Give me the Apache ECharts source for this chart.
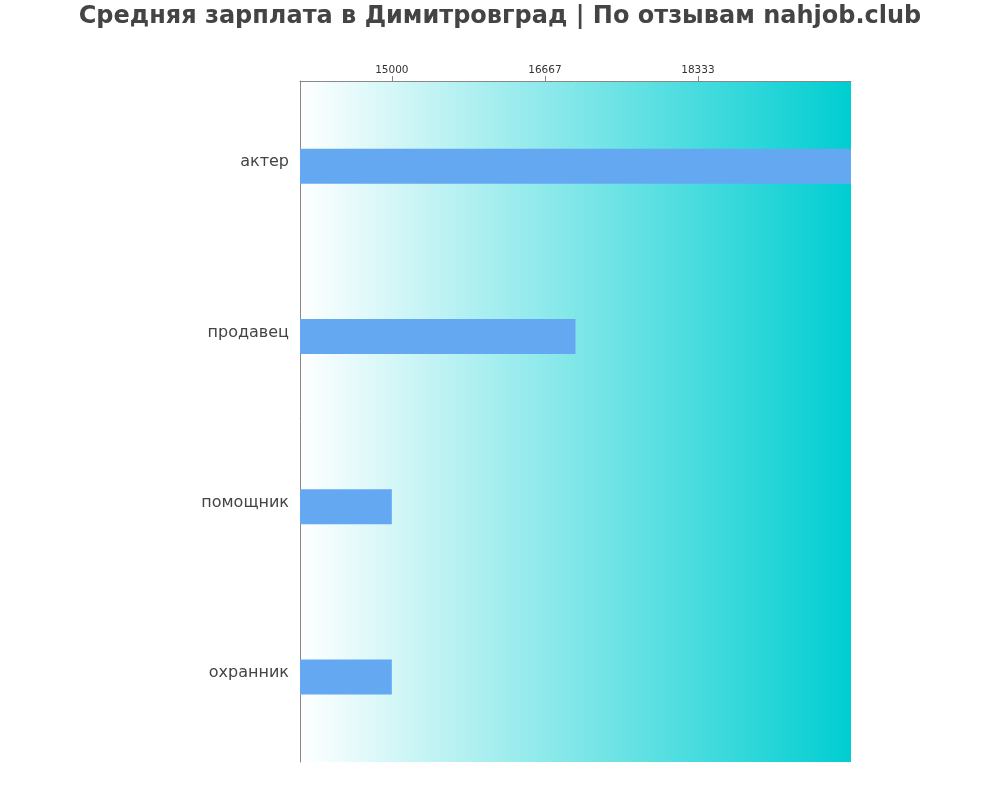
<!DOCTYPE html>
<html><head><meta charset="utf-8">
<script src="https://cdn.jsdelivr.net/npm/echarts@6/dist/echarts.min.js"></script>
<style>html,body{margin:0;padding:0;background:#fff}#c{width:1000px;height:800px}</style>
</head><body><div id="c"></div>
<script>
const categories = ['актер', 'продавец', 'помощник', 'охранник'];
const salaries = [20000, 17000, 15000, 15000];
const tickValues = [15000, 16667, 18333];
const axisMin = 14000;
const axisMax = 20000;

const FONT = "'DejaVu Sans', Verdana, sans-serif";
const chart = echarts.init(document.getElementById('c'), null, {renderer: 'canvas'});
chart.setOption({
  animation: false,
  title: {
    text: 'Средняя зарплата в Димитровград | По отзывам nahjob.club',
    left: 'center', top: 0,
    textStyle: {fontFamily: FONT, fontWeight: 'bold', fontSize: 24, color: '#444'}
  },
  grid: {
    left: 300, right: 149, top: 81, bottom: 38, show: true, borderWidth: 0,
    backgroundColor: new echarts.graphic.LinearGradient(0, 0, 1, 0, [
      {offset: 0, color: '#ffffff'}, {offset: 1, color: '#00CED1'}
    ])
  },
  xAxis: {
    type: 'value', position: 'top', min: axisMin, max: axisMax,
    axisLine: {show: true, lineStyle: {color: '#888', width: 1}},
    axisTick: {show: true, customValues: tickValues, length: 5, lineStyle: {color: '#888'}},
    axisLabel: {customValues: tickValues, fontFamily: FONT, fontSize: 10.5, color: '#333', margin: 5,
      formatter: v => String(Math.round(v))},
    splitLine: {show: false}
  },
  yAxis: {
    type: 'category', data: categories, inverse: true,
    axisLine: {show: true, lineStyle: {color: '#888', width: 1}},
    axisTick: {show: false},
    axisLabel: {fontFamily: FONT, fontSize: 16, color: '#444', margin: 11,
      verticalAlign: 'bottom', lineHeight: 8},
    splitLine: {show: false}
  },
  series: [{
    type: 'bar', data: salaries, barWidth: 35,
    itemStyle: {color: '#64A8F2'}
  }]
});
</script></body></html>
